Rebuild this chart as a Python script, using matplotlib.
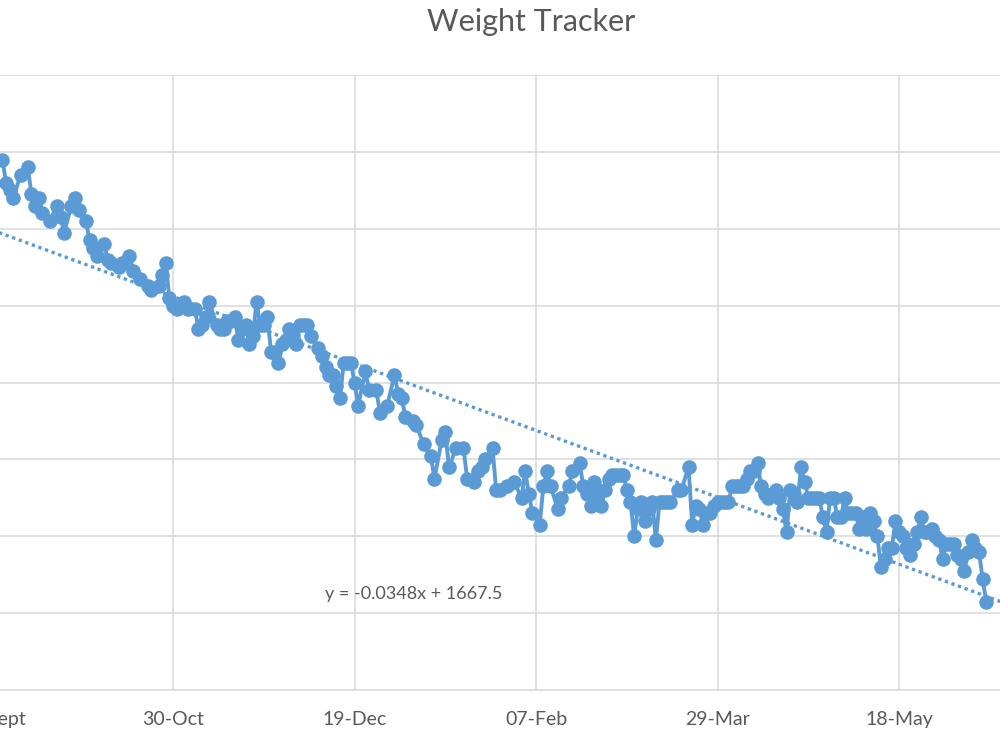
import matplotlib
matplotlib.use('Agg')
import pandas as pd
from matplotlib import pyplot as plt

# daily weigh-ins, day number counted from 12 Sept 2022, weight in kg
START = pd.Timestamp('2022-09-12')
DAY = [1, 2, 3, 4, 6, 8, 9, 10, 11, 12, 14, 16, 17, 18, 20, 21, 22, 24, 25, 26,
       27, 29, 30, 31, 33, 34, 36, 37, 39, 41, 42, 44, 45, 46, 47, 48, 49, 51, 52, 54,
       55, 56, 57, 58, 60, 61, 62, 63, 64, 65, 66, 67, 68, 69, 70, 71, 72, 73, 74, 75,
       76, 77, 78, 79, 80, 81, 82, 83, 84, 85, 86, 88, 89, 90, 91, 92, 93, 94, 95, 96,
       97, 98, 99, 101, 102, 104, 105, 107, 109, 110, 111, 112, 114, 115, 117, 119, 120, 122, 123, 124,
       126, 128, 129, 131, 132, 133, 134, 136, 137, 138, 140, 142, 144, 145, 146, 147, 149, 150, 151, 152,
       154, 155, 157, 158, 160, 161, 162, 163, 164, 165, 166, 167, 168, 169, 170, 171, 172, 173, 174, 175,
       176, 177, 178, 179, 180, 181, 182, 183, 184, 185, 187, 188, 190, 191, 192, 193, 194, 195, 196, 197,
       198, 199, 200, 201, 202, 203, 204, 205, 206, 207, 208, 209, 210, 211, 212, 213, 214, 215, 216, 217,
       218, 219, 220, 221, 222, 223, 224, 225, 226, 227, 228, 229, 230, 231, 232, 233, 234, 235, 236, 237,
       238, 239, 240, 241, 242, 243, 244, 245, 246, 247, 248, 249, 250, 251, 252, 253, 254, 255, 256, 257,
       258, 259, 260, 261, 262, 263, 264, 265, 266, 267, 268, 269, 270, 271, 272]
WEIGHT = [109.8, 109.2, 109.0, 108.8, 109.4, 109.6, 108.9, 108.6, 108.8, 108.4, 108.2, 108.6, 108.3, 107.9, 108.6, 108.8, 108.5, 108.2, 107.7, 107.5,
          107.3, 107.6, 107.2, 107.1, 107.0, 107.1, 107.3, 106.9, 106.7, 106.5, 106.4, 106.5, 106.8, 107.1, 106.2, 106.0, 105.9, 106.1, 105.9, 105.9,
          105.4, 105.5, 105.7, 106.1, 105.5, 105.4, 105.4, 105.6, 105.6, 105.7, 105.1, 105.4, 105.5, 105.0, 105.2, 106.1, 105.5, 105.5, 105.7, 104.8,
          104.8, 104.5, 105.0, 105.1, 105.4, 105.2, 105.0, 105.5, 105.5, 105.5, 105.2, 104.9, 104.7, 104.4, 104.2, 104.2, 103.9, 103.6, 104.5, 104.5,
          104.5, 104.0, 103.4, 104.3, 103.8, 103.8, 103.2, 103.4, 104.2, 103.7, 103.6, 103.1, 103.0, 102.9, 102.4, 102.1, 101.5, 102.5, 102.7, 101.8,
          102.3, 102.3, 101.5, 101.4, 101.7, 101.8, 102.0, 102.3, 101.2, 101.2, 101.3, 101.4, 101.0, 101.7, 101.1, 100.6, 100.3, 101.3, 101.7, 101.3,
          100.7, 101.0, 101.3, 101.7, 101.9, 101.3, 101.1, 100.8, 101.4, 101.1, 100.8, 101.2, 101.5, 101.6, 101.6, 101.6, 101.6, 101.2, 100.9, 100.0,
          100.7, 100.9, 100.4, 100.7, 100.9, 99.9, 100.9, 100.9, 100.9, 100.9, 101.2, 101.2, 101.8, 100.3, 100.8, 100.7, 100.3, 100.6, 100.6, 100.8,
          100.9, 100.9, 100.9, 100.9, 101.3, 101.3, 101.3, 101.3, 101.5, 101.7, 101.7, 101.9, 101.3, 101.1, 101.0, 101.1, 101.2, 101.0, 100.7, 100.1,
          101.2, 101.1, 100.9, 101.8, 101.4, 101.0, 101.0, 101.0, 101.0, 100.5, 100.1, 101.0, 101.0, 100.5, 100.5, 101.0, 100.6, 100.6, 100.6, 100.2,
          100.5, 100.2, 100.6, 100.4, 100.0, 99.2, 99.4, 99.7, 99.7, 100.4, 100.1, 100.0, 99.7, 99.5, 99.8, 100.1, 100.5, 100.1, 100.1, 100.2,
          100.0, 99.9, 99.4, 99.8, 99.8, 99.8, 99.5, 99.4, 99.1, 99.6, 99.9, 99.7, 99.6, 98.9, 98.3]

# linear trendline as printed on the chart (x = Excel date serial)
TREND_SLOPE = -0.0348
TREND_INTERCEPT = 1667.5
TREND_LABEL = 'y = -0.0348x + 1667.5'

TICK_DATES = ['2022-09-10', '2022-10-30', '2022-12-19', '2023-02-07', '2023-03-29', '2023-05-18']
TICK_LABELS = ['10-Sept', '30-Oct', '19-Dec', '07-Feb', '29-Mar', '18-May']

blue = '#5B9BD5'
grey_text = '#595959'
grid_col = '#D9D9D9'

plt.rcParams['font.family'] = ['Lato', 'DejaVu Sans']

dates = START + pd.to_timedelta(DAY, unit='D')
tick_dates = pd.to_datetime(TICK_DATES)

fig = plt.figure(figsize=(10, 7.5), dpi=100)
ax = fig.add_axes([0, 0.08, 1, 0.82])

ax.plot(dates, WEIGHT, color=blue, linewidth=2.8, marker='o', markersize=10.5,
        markeredgewidth=0, zorder=3)

# visible window (chart is cropped on both sides)
x_min = START + pd.Timedelta(hours=8)
x_max = pd.Timestamp('2023-06-14 19:00')

# trendline across the whole plot area
trend_x = pd.date_range(x_min - pd.Timedelta(days=5), x_max + pd.Timedelta(days=5), periods=2)
serial = (trend_x - pd.Timestamp('1899-12-30')) / pd.Timedelta(days=1)
trend_y = TREND_SLOPE * serial + TREND_INTERCEPT
ax.plot(trend_x, trend_y, color=blue, linewidth=2.4, linestyle=(0, (1, 1.1)), zorder=4)

fig.text(0.325, 0.208, TREND_LABEL, color=grey_text, fontsize=13, va='center', ha='left')

ax.set_xticks(tick_dates)
ax.set_xticklabels(TICK_LABELS, color=grey_text, fontsize=14)
ax.set_yticks(range(96, 113, 2))
ax.tick_params(axis='y', left=False, labelleft=False)
ax.tick_params(axis='x', length=0, pad=15)

# set limits after the ticks, otherwise the 10-Sept tick widens the view
ax.set_xlim(x_min, x_max)
ax.set_ylim(96, 112)

# first tick sits just left of the visible area, so its label is drawn by hand
for d, lab in zip(tick_dates, TICK_LABELS):
    if d < x_min:
        ax.annotate(lab, xy=(d, 0), xycoords=('data', 'axes fraction'),
                    xytext=(0, -15), textcoords='offset points', ha='center', va='top',
                    color=grey_text, fontsize=14, annotation_clip=False)

ax.grid(True, color=grid_col, linewidth=1.1)
ax.set_axisbelow(True)
for side in ['top', 'right', 'left']:
    ax.spines[side].set_visible(False)
ax.spines['bottom'].set_color(grid_col)
ax.spines['bottom'].set_linewidth(1.1)

fig.text(0.531, 0.97, 'Weight Tracker', color=grey_text, fontsize=22, ha='center', va='center')

plt.savefig('out.png', dpi=100)
